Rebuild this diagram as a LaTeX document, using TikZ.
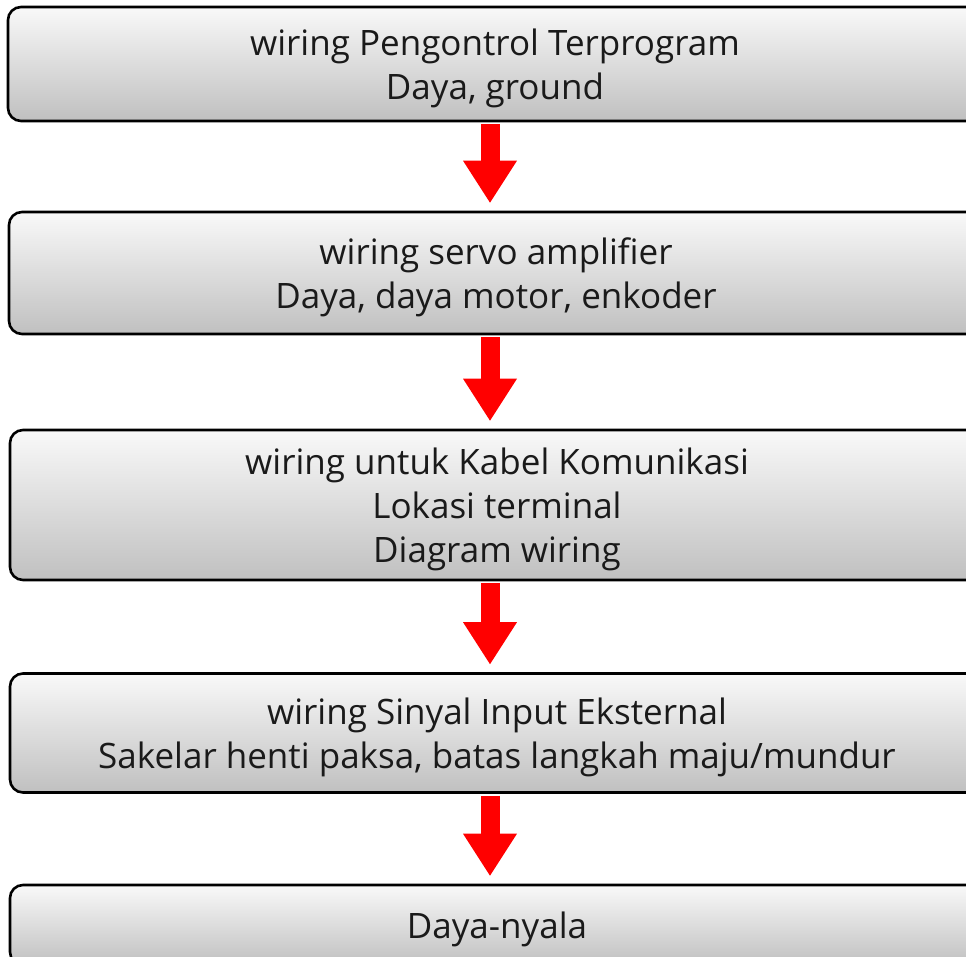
\documentclass[tikz,border=0pt]{standalone}
\usepackage{fontspec}
\setmainfont{Open Sans}
\usetikzlibrary{arrows.meta}
\definecolor{boxtop}{RGB}{249,249,249}
\definecolor{boxbot}{RGB}{192,192,192}
\definecolor{txt}{RGB}{26,26,26}
\tikzset{
  stepbox/.style={draw=black, line width=2.6pt, rounded corners=13pt,
    top color=boxtop, bottom color=boxbot, minimum width=974pt, inner sep=0pt},
  steptext/.style={text=txt, align=center, inner sep=0pt,
    font=\fontsize{35}{44}\selectfont},
  flowarrow/.style={draw=red, line width=19pt,
    -{Triangle[width=54pt,length=42pt,line width=0pt]},
    shorten <=2pt, shorten >=8pt}
}
\begin{document}
\begin{tikzpicture}[x=1pt,y=-1pt]
\useasboundingbox (0,0) rectangle (966,957);
\clip (0,0) rectangle (966,957);
\fill[white] (0,0) rectangle (966,957);
\node[stepbox, minimum height=114pt] (b1) at (495,64) {};
\node[stepbox, minimum height=122pt] (b2) at (496,273) {};
\node[stepbox, minimum height=150pt] (b3) at (497,505) {};
\node[stepbox, minimum height=119pt] (b4) at (497,733) {};
\node[stepbox, minimum height=80pt] (b5) at (497,925) {};
\node[steptext] (t1) at (495,68.5) {wiring Pengontrol Terprogram\\Daya, ground};
\node[steptext] (t2) at (496,277.5) {wiring servo amplifier\\Daya, daya motor, enkoder};
\node[steptext] (t3) at (497,509.5) {wiring untuk Kabel Komunikasi\\Lokasi terminal\\Diagram wiring};
\node[steptext] (t4) at (497,737.5) {wiring Sinyal Input Eksternal\\Sakelar henti paksa, batas langkah maju/mundur};
\node[steptext] (t5) at (497,929.5) {Daya-nyala};
\draw[flowarrow] (b1.south -| 490,0) -- (b2.north -| 490,0);
\draw[flowarrow] (b2.south -| 490,0) -- (b3.north -| 490,0);
\draw[flowarrow] (b3.south -| 490,0) -- (b4.north -| 490,0);
\draw[flowarrow] (b4.south -| 490,0) -- (b5.north -| 490,0);
\end{tikzpicture}
\end{document}
